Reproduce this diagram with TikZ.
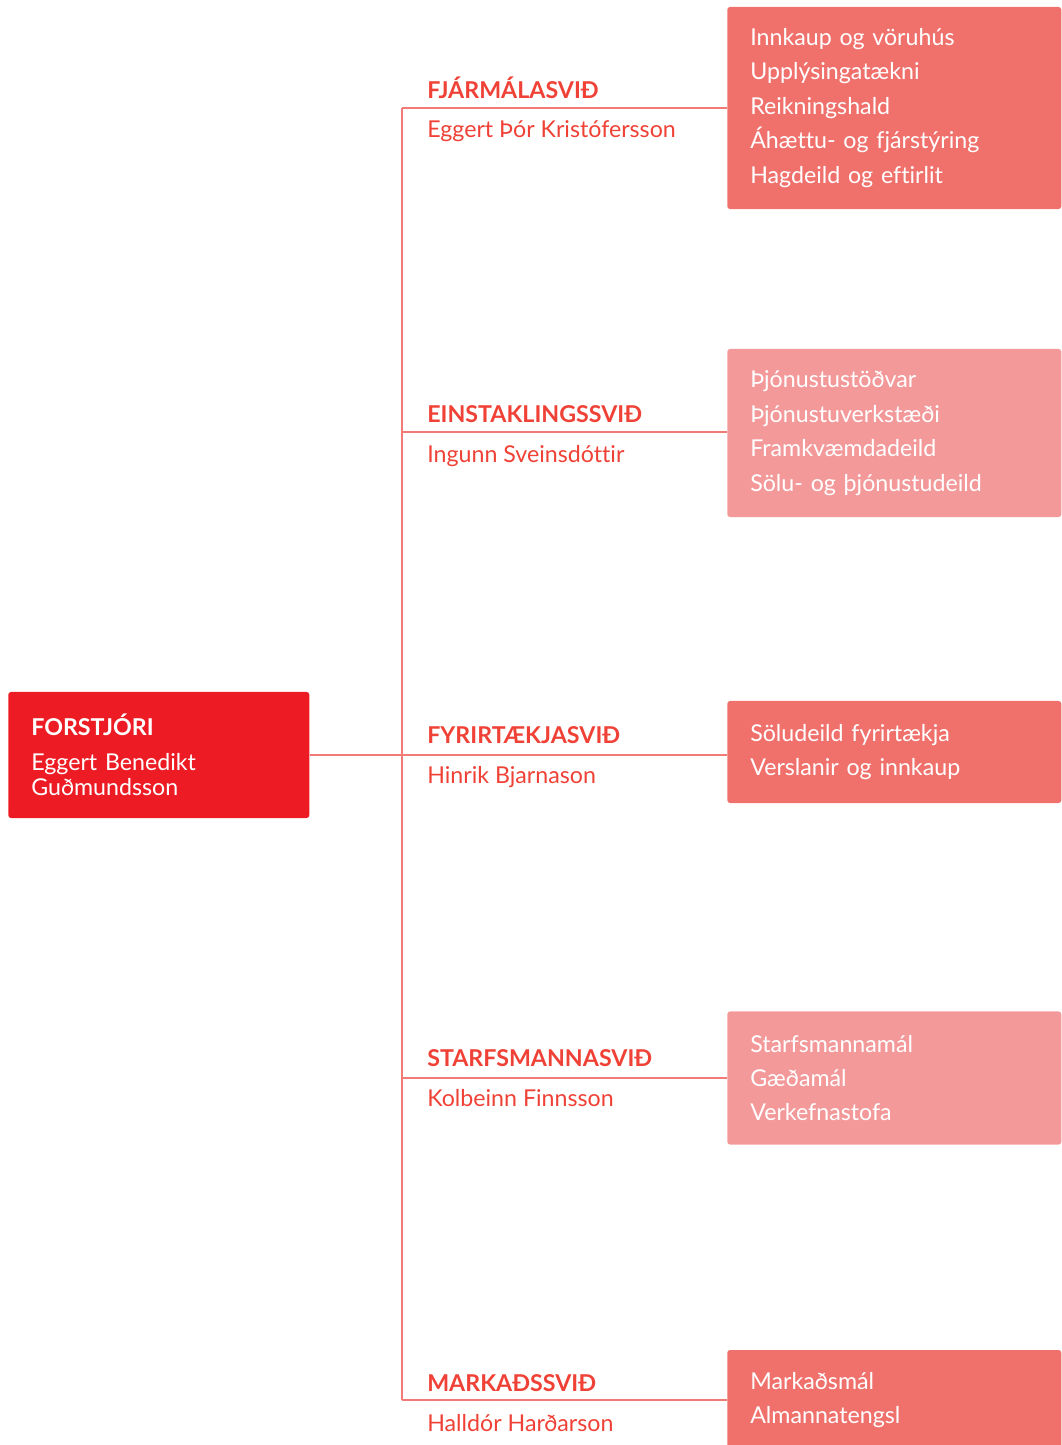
\documentclass[tikz,border=0pt]{standalone}
\usepackage{fontspec}
\setmainfont{Lato}[Ligatures={NoCommon}]
\definecolor{ceored}{HTML}{ED1C24}
\definecolor{darkred}{HTML}{F0716C}
\definecolor{lightred}{HTML}{F4999A}
\definecolor{linered}{HTML}{F27B78}
\definecolor{headred}{HTML}{EF4136}
\begin{document}
\begin{tikzpicture}[x=0.025cm, y=-0.025cm,
        link/.style={draw=linered, line width=1.6pt},
        ceobox/.style={fill=ceored, rounded corners=2pt, anchor=west, minimum width=7.525cm, minimum height=3.15cm, inner xsep=0.575cm, text width=6.375cm, align=left, text=white, font=\fontsize{16.5}{17.8}\selectfont},
        unit/.style={rounded corners=2pt, anchor=west, minimum width=8.35cm, inner xsep=0.575cm, text width=7.2cm, align=left, text=white, font=\fontsize{16.5}{24.5}\selectfont},
        darkunit/.style={unit, fill=darkred},
        lightunit/.style={unit, fill=lightred},
        divhead/.style={anchor=base west, inner sep=0pt, text=headred, font=\bfseries\fontsize{16.5}{18}\selectfont},
        divname/.style={anchor=base west, inner sep=0pt, text=headred, font=\fontsize{16.5}{18}\selectfont}]
        \useasboundingbox (0,0) rectangle (1061,1445);
        
        % Spine
        \foreach \y [count=\i] in {108, 432, 755, 1078, 1400} {
            \coordinate (s\i) at (402, \y);
        }
        \draw[link] (s1) -- (s5);
        
        % Forstjori
        \node[ceobox] (ceo) at (8, 755) {\textbf{FORSTJÓRI}\\[7pt]Eggert Benedikt\\Guðmundsson};
        \draw[link] (ceo.east) -- (s3);
        
        % Units
        \node[darkunit, minimum height=5.05cm] (fin) at (727, 108) {Innkaup og vöruhús\\Upplýsingatækni\\Reikningshald\\Áhættu- og fjárstýring\\Hagdeild og eftirlit};
        \node[lightunit, minimum height=4.2cm] (ein) at (727, 433) {Þjónustustöðvar\\Þjónustuverkstæði\\Framkvæmdadeild\\Sölu- og þjónustudeild};
        \node[darkunit, minimum height=2.55cm] (fyr) at (727, 752) {Söludeild fyrirtækja\\Verslanir og innkaup};
        \node[lightunit, minimum height=3.325cm] (sta) at (727, 1078) {Starfsmannamál\\Gæðamál\\Verkefnastofa};
        \node[darkunit, minimum height=2.5cm] (mar) at (727, 1400) {Markaðsmál\\Almannatengsl};
        
        %% -
        \draw[link] (s1) -- (s1 -| fin.west);
        \draw[link] (s2) -- (s2 -| ein.west);
        \draw[link] (s3) -- (s3 -| fyr.west);
        \draw[link] (s4) -- (s4 -| sta.west);
        \draw[link] (s5) -- (s5 -| mar.west);
        
        % Divisions
        \node[divhead] (finhead) at (427, 99) {FJÁRMÁLASVIÐ};
        \node[divname] (finname) at (427, 138) {Eggert Þór Kristófersson};
        \node[divhead] (einhead) at (427, 422) {EINSTAKLINGSSVIÐ};
        \node[divname] (einname) at (427, 462) {Ingunn Sveinsdóttir};
        \node[divhead] (fyrhead) at (427, 743) {FYRIRTÆKJASVIÐ};
        \node[divname] (fyrname) at (427, 783) {Hinrik Bjarnason};
        \node[divhead] (stahead) at (427, 1066) {STARFSMANNASVIÐ};
        \node[divname] (staname) at (427, 1106) {Kolbeinn Finnsson};
        \node[divhead] (marhead) at (427, 1391) {MARKAÐSSVIÐ};
        \node[divname] (marname) at (427, 1431) {Halldór Harðarson};
        
    \end{tikzpicture}
\end{document}
